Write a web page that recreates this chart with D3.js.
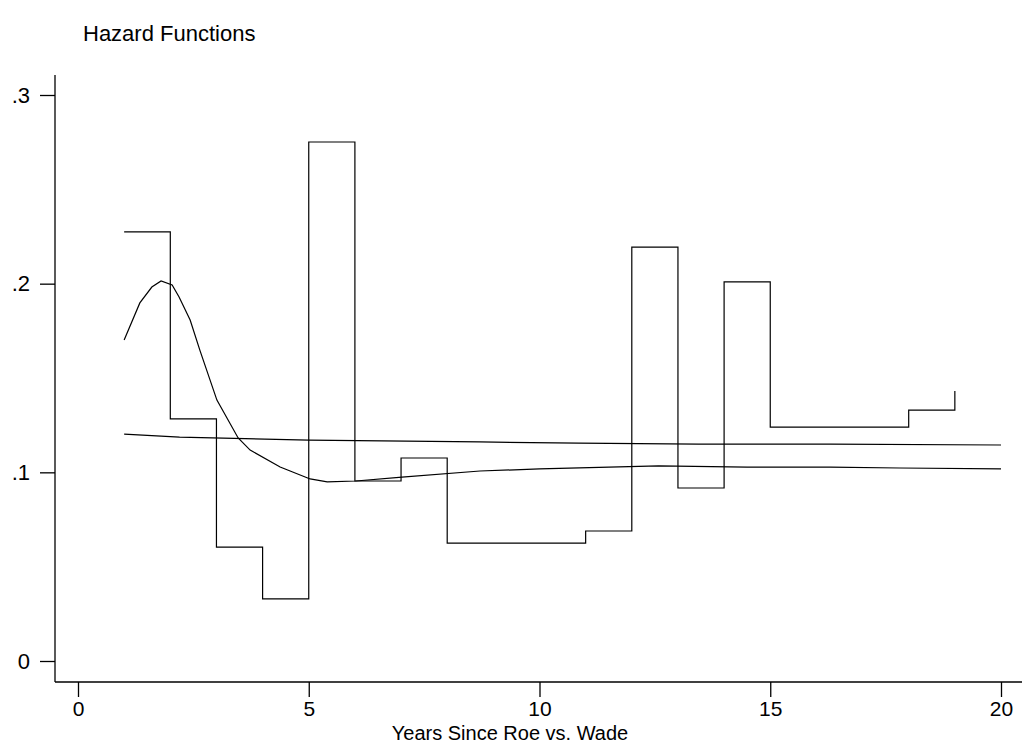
<!DOCTYPE html>
<html>
<head>
<meta charset="utf-8">
<script src="https://cdn.jsdelivr.net/npm/d3@7"></script>
<style>
  body { margin: 0; background: #fff; }
  svg { display: block; }
  text { font-family: "Liberation Sans", Arial, sans-serif; fill: #000; }
</style>
</head>
<body>
<div id="chart"></div>
<script>
//------------------------------------------------ DATA ----------------------------------------------------

// step hazard, one value per year (drawn step-after)
var stepYears  = [1, 2, 3, 4, 5, 6, 7, 8, 9, 10, 11, 12, 13, 14, 15, 16, 17, 18, 19];
var stepHazard = [.2274, .1283, .0604, .0329, .2751, .0954, .1076, .0625, .0625, .0625,
                  .0689, .2194, .0917, .2009, .1240, .1240, .1240, .1330, .1431];

// nearly flat smoothed hazard
var flatYears  = [1, 2.2, 5, 8.7, 10.85, 13.45, 16.3, 20];
var flatHazard = [.1203, .1187, .1171, .1161, .1155, .1150, .1150, .1145];

// smoothed hazard with the early peak
var smoothYears  = [1, 1.34, 1.6, 1.8, 2.04, 2.19, 2.43, 2.64, 3.01, 3.47, 3.73, 4.38,
                    5.03, 5.4, 6.02, 7.02, 8.71, 10, 12.58, 14.5, 16.3, 17.8, 20];
var smoothHazard = [.1701, .1898, .1982, .2014, .1993, .1929, .1807, .1648, .1383, .1182, .1118, .1028,
                    .0965, .0949, .0954, .0975, .1007, .1018, .1034, .1028, .1028, .1023, .1018];

var xTicks = [0, 5, 10, 15, 20];
var yTicks = [0, .1, .2, .3];
var yTickLabels = ["0", ".1", ".2", ".3"];

//------------------------------------------------ SVG ----------------------------------------------------

var width = 1022;
var height = 744;

var svg = d3.select("#chart").append("svg")
    .attr("width", width)
    .attr("height", height);

var x = d3.scaleLinear().domain([0, 20]).range([78, 1001]);
var y = d3.scaleLinear().domain([0, .3]).range([661, 95]);

var axisX = 55;   // y axis line position
var axisY = 682;  // x axis line position

// title
svg.append("text")
    .attr("x", 83)
    .attr("y", 41)
    .style("font-size", "22px")
    .text("Hazard Functions");

// y axis
var yAxis = svg.append("g")
    .attr("transform", "translate(" + axisX + ",0)")
    .call(d3.axisLeft(y)
        .tickValues(yTicks)
        .tickFormat(function(d, i) { return yTickLabels[i]; })
        .tickSize(15)
        .tickPadding(10));
yAxis.select(".domain").remove();
yAxis.selectAll("text").style("font-size", "22px").attr("font-family", null);
yAxis.selectAll("line").attr("stroke", "#000").attr("stroke-width", 1.3);

svg.append("line")
    .attr("x1", axisX).attr("x2", axisX)
    .attr("y1", 75).attr("y2", axisY)
    .attr("stroke", "#000").attr("stroke-width", 1.3);

// x axis
var xAxis = svg.append("g")
    .attr("transform", "translate(0," + axisY + ")")
    .call(d3.axisBottom(x)
        .tickValues(xTicks)
        .tickSize(15)
        .tickPadding(4));
xAxis.select(".domain").remove();
xAxis.selectAll("text").style("font-size", "21px").attr("font-family", null);
xAxis.selectAll("line").attr("stroke", "#000").attr("stroke-width", 1.3);

svg.append("line")
    .attr("x1", axisX).attr("x2", width)
    .attr("y1", axisY).attr("y2", axisY)
    .attr("stroke", "#000").attr("stroke-width", 1.3);

svg.append("text")
    .attr("x", 510)
    .attr("y", 740)
    .attr("text-anchor", "middle")
    .style("font-size", "20px")
    .text("Years Since Roe vs. Wade");

//------------------------------------------------ LINES ----------------------------------------------------

var stepLine = d3.line()
    .x(function(d) { return x(d[0]); })
    .y(function(d) { return y(d[1]); })
    .curve(d3.curveStepAfter);

var plainLine = d3.line()
    .x(function(d) { return x(d[0]); })
    .y(function(d) { return y(d[1]); });

svg.append("path")
    .attr("d", stepLine(d3.zip(stepYears, stepHazard)))
    .attr("fill", "none")
    .attr("stroke", "#000")
    .attr("stroke-width", 1.2);

svg.append("path")
    .attr("d", plainLine(d3.zip(flatYears, flatHazard)))
    .attr("fill", "none")
    .attr("stroke", "#000")
    .attr("stroke-width", 1.2);

svg.append("path")
    .attr("d", plainLine(d3.zip(smoothYears, smoothHazard)))
    .attr("fill", "none")
    .attr("stroke", "#000")
    .attr("stroke-width", 1.2);
</script>
</body>
</html>
